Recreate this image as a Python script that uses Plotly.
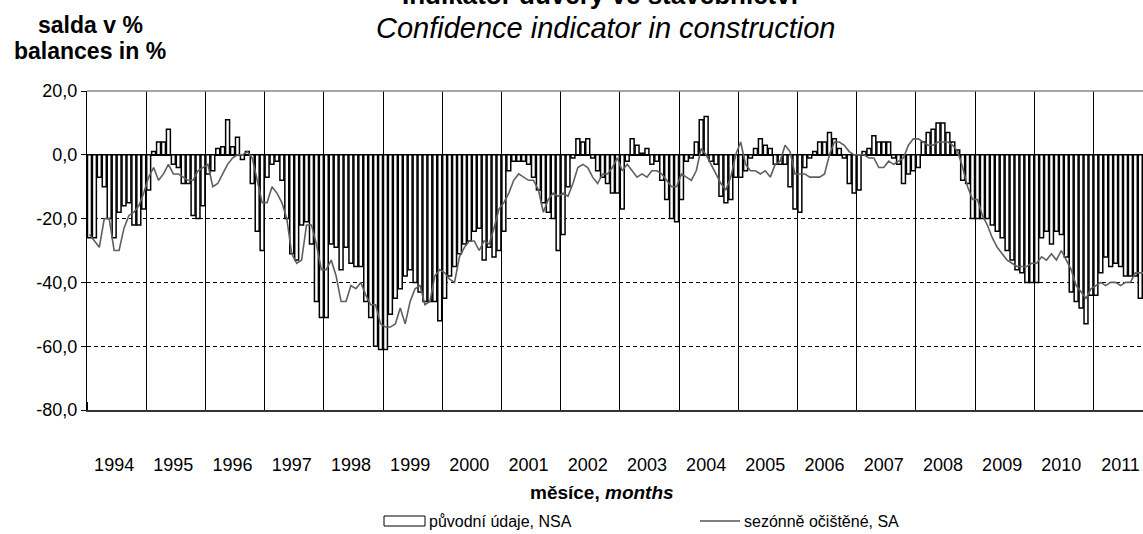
import plotly.graph_objects as go

years = list(range(1994, 2012))

nsa_1994 = [-26, -26, -7, -10, -20, -26, -18, -16, -15, -22, -22, -17]
nsa_1995 = [-11, 1, 4, 4, 8, -3, -4, -9, -9, -19, -20, -16]
nsa_1996 = [-6, -5, 2, 2.5, 11, 2.5, 5.5, -1.5, 1, -9, -24, -30]
nsa_1997 = [-7, -3, -2, -8, -20, -31, -33, -22, -21, -28, -46, -51]
nsa_1998 = [-51, -28, -29, -36, -29, -34, -35, -35, -46, -51, -60, -61]
nsa_1999 = [-61, -50, -45, -42, -38, -36, -40, -43, -46, -46, -46, -52]
nsa_2000 = [-45, -38, -35, -31, -28, -27, -24, -23, -33, -29, -32, -30]
nsa_2001 = [-24, -5, -2, -2, -2, -3, -7, -11, -15, -18, -20, -30]
nsa_2002 = [-25, -10, -1, 5, 4, 5, -1, -5, -7, -9, -12, -12]
nsa_2003 = [-17, -2, 5, 3, 0.5, 2, -3, -2, -8, -14, -20, -21]
nsa_2004 = [-14, -2, -1, 4, 11, 12, -2, -3, -13, -15, -14, -7]
nsa_2005 = [-7, -5, -1, 2, 5, 3, 2, -3, -3, -3, -10, -17]
nsa_2006 = [-18, -4, -1, 1, 4, 4, 7, 5, 2, -1, -9, -12]
nsa_2007 = [-11, 1, 2, 6, 4, 4, 4, -1, -3, -9, -6, -5]
nsa_2008 = [-4, 4, 7, 8, 10, 10, 7, 4, 1.5, -8, -9, -20]
nsa_2009 = [-20, -20, -20, -22, -24, -26, -30, -33, -36, -37, -40, -40]
nsa_2010 = [-40, -26, -24, -28, -24, -25, -32, -43, -46, -48, -53, -44]
nsa_2011 = [-44, -37, -32, -35, -34, -35, -38, -38, -38, -45, -44, -40]

sa_1994 = [-25, -27, -29, -20, -20, -30, -30, -23, -19, -18, -16, -12]
sa_1995 = [-7, -4, -8, -6, -3, -6, -6, -7, -8, -8, -5, -4]
sa_1996 = [-3, -10, -9, -6, -3, -1, 0, 0, 1, -1, -8, -15]
sa_1997 = [-15, -10, -12, -15, -20, -31, -34, -33, -22, -22, -28, -36]
sa_1998 = [-36, -33, -38, -46, -46, -41, -42, -40, -44, -47, -47, -53]
sa_1999 = [-54, -54, -53, -48, -53, -46, -42, -41, -47, -46, -38, -36]
sa_2000 = [-37, -39, -40, -32, -29, -27, -27, -30, -27, -28, -23, -17]
sa_2001 = [-15, -12, -8, -6, -7, -8, -8, -11, -18, -14, -12, -13]
sa_2002 = [-12, -13, -9, -4, -3, -4, -7, -9, -6, -6, -4, -1]
sa_2003 = [-5, -3, -5, -7, -6, -7, -5, -5, -6, -8, -10, -10]
sa_2004 = [-6, -7, -8, -5, 2, 0, -3, -6, -9, -11, -7, 0]
sa_2005 = [4, -3, -5, -5, -6, -5, -7, -3, -2, 3, 1, -6]
sa_2006 = [-6, -6, -7, -7, -7, -6, 0, 4, 4, 3, 1, 0]
sa_2007 = [0, 0, -1, -1, -4, -4, -2, -3, -2, -1, 3, 5]
sa_2008 = [5, 4, 3, 3, 4, 4, 4, 3, 1, -4, -10, -14]
sa_2009 = [-14, -19, -22, -26, -29, -31, -33, -34, -35, -35, -35, -34]
sa_2010 = [-34, -32, -33, -31, -33, -30, -33, -36, -41, -43, -45, -42]
sa_2011 = [-41, -40, -41, -40, -40, -41, -40, -40, -37, -37, -37, -37]

nsa = (nsa_1994 + nsa_1995 + nsa_1996 + nsa_1997 + nsa_1998 + nsa_1999 + nsa_2000 + nsa_2001
       + nsa_2002 + nsa_2003 + nsa_2004 + nsa_2005 + nsa_2006 + nsa_2007 + nsa_2008 + nsa_2009
       + nsa_2010 + nsa_2011)
sa = (sa_1994 + sa_1995 + sa_1996 + sa_1997 + sa_1998 + sa_1999 + sa_2000 + sa_2001
      + sa_2002 + sa_2003 + sa_2004 + sa_2005 + sa_2006 + sa_2007 + sa_2008 + sa_2009
      + sa_2010 + sa_2011)
months = list(range(len(nsa)))

y_ticks = [20, 0, -20, -40, -60, -80]
y_ticktext = ["20,0", "0,0", "-20,0", "-40,0", "-60,0", "-80,0"]

W, H = 1143, 534
L, T, B = 87, 91, 124
PW = W - L
PH = H - T - B
FONT = "Arial, Liberation Sans, sans-serif"


def px(x):
    return (x - L) / PW


def py(y):
    return (H - B - y) / PH


fig = go.Figure()
fig.add_trace(go.Bar(
    x=months, y=nsa, name="původní údaje, NSA",
    marker=dict(color="white", line=dict(color="black", width=1.5)),
    showlegend=False,
))
fig.add_trace(go.Scatter(
    x=months, y=sa, mode="lines", name="sezónně očištěné, SA",
    line=dict(color="#5f5f5f", width=1.6), showlegend=False,
))

fig.update_layout(
    width=W, height=H,
    margin=dict(l=L, r=0, t=T, b=B, pad=0),
    paper_bgcolor="white", plot_bgcolor="white",
    bargap=0.2,
    font=dict(family=FONT, size=18, color="black"),
    xaxis=dict(
        range=[-0.5, -0.5 + PW / (59.2 / 12)],
        tickmode="array",
        tickvals=[12 * k + 5.0 for k in range(len(years))],
        ticktext=[str(y) for y in years],
        ticks="", showgrid=False, zeroline=False,
        showline=True, linecolor="#333", linewidth=1.5,
        ticklabelstandoff=38,
        ticklabeloverflow="allow",
        tickfont=dict(size=18),
        minor=dict(tickmode="linear", tick0=-0.5, dtick=12, ticks="inside", ticklen=8,
                   tickcolor="black", tickwidth=1.2, showgrid=True, gridcolor="black",
                   gridwidth=1.4),
    ),
    yaxis=dict(
        range=[-80, 20],
        tickmode="array", tickvals=y_ticks, ticktext=y_ticktext,
        ticks="outside", ticklen=5, tickcolor="black",
        showline=True, linecolor="black", linewidth=1.2,
        showgrid=True, gridcolor="black", gridwidth=1, griddash="4px,3px",
        zeroline=True, zerolinecolor="black", zerolinewidth=1.5,
        tickfont=dict(size=18),
    ),
)

# top border (solid grey)
fig.add_shape(type="line", xref="paper", yref="paper", x0=0, x1=1, y0=1, y1=1,
              line=dict(color="#888", width=1.5))

ann = []
ann.append(dict(text="<b>Indikátor důvěry ve stavebnictví</b>", x=px(600), y=py(12),
                xanchor="center", yanchor="bottom", font=dict(size=26)))
ann.append(dict(text="<i>Confidence indicator in construction</i>", x=px(605), y=py(46),
                xanchor="center", yanchor="bottom", font=dict(size=29)))
ann.append(dict(text="<b>salda v %</b>", x=px(90), y=py(25),
                xanchor="center", yanchor="middle", font=dict(size=23)))
ann.append(dict(text="<b>balances in %</b>", x=px(90), y=py(51),
                xanchor="center", yanchor="middle", font=dict(size=23)))
ann.append(dict(text="<b>měsíce, <i>months</i></b>", x=px(602), y=py(492),
                xanchor="center", yanchor="middle", font=dict(size=19)))
ann.append(dict(text="původní údaje, NSA", x=px(427), y=py(521),
                xanchor="left", yanchor="middle", font=dict(size=16)))
ann.append(dict(text="sezónně očištěné, SA", x=px(742), y=py(521),
                xanchor="left", yanchor="middle", font=dict(size=16)))
for a in ann:
    a.update(xref="paper", yref="paper", showarrow=False)
fig.update_layout(annotations=ann)

# legend symbols
fig.add_shape(type="rect", xref="paper", yref="paper", x0=px(384), x1=px(425),
              y0=py(526), y1=py(516), line=dict(color="black", width=1), fillcolor="white")
fig.add_shape(type="line", xref="paper", yref="paper", x0=px(700), x1=px(740),
              y0=py(521), y1=py(521), line=dict(color="black", width=1.2))

fig.write_html(
    "out.html",
    config={"displayModeBar": False},
    post_script="document.body.style.margin='0';document.body.style.overflow='hidden';",
)
